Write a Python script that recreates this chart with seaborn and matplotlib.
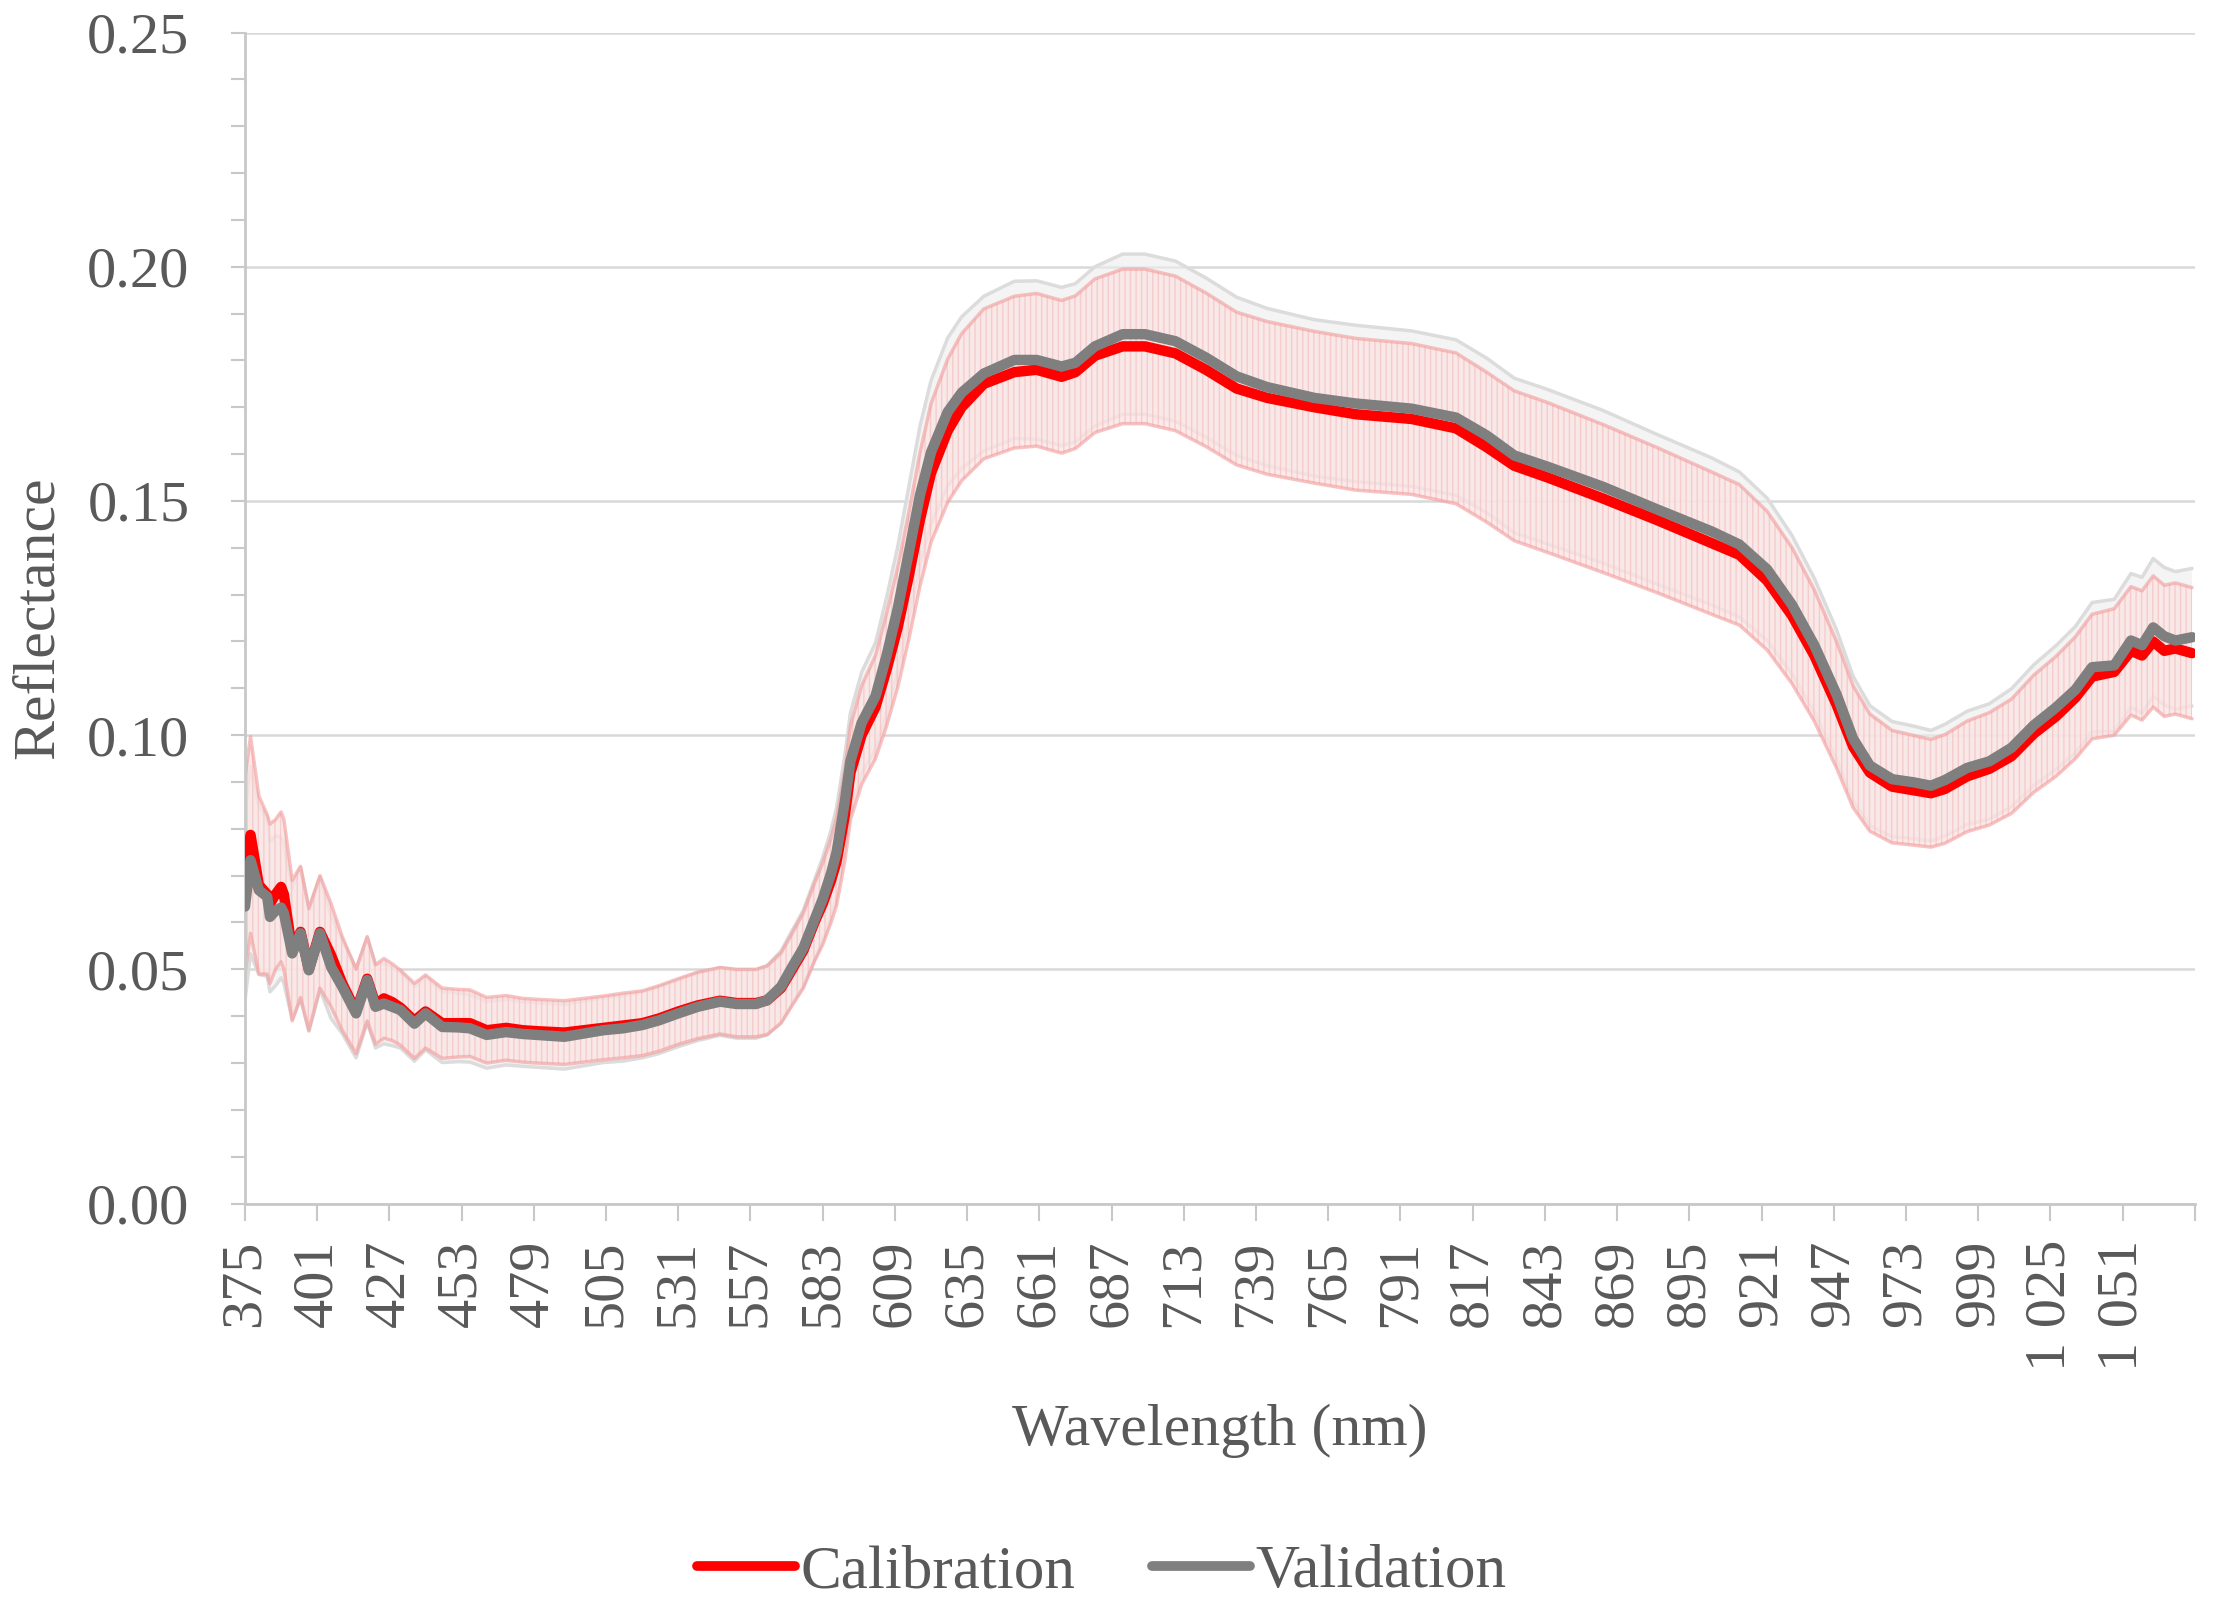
import numpy as np
import pandas as pd
import matplotlib
matplotlib.use("Agg")
import matplotlib.pyplot as plt
from matplotlib.lines import Line2D
from matplotlib.ticker import MultipleLocator, FixedLocator, FixedFormatter
import seaborn as sns


RED = "#ff0000"
GREY = "#7f7f7f"
TEXT = "#595959"
AXIS = "#c8c8c8"
GRID = "#d9d9d9"

# wavelength (nm) and mean / standard deviation of reflectance
wavelength = [
    375, 377, 380, 383, 384, 386, 388, 389, 392, 395,
    398, 402, 406, 410, 415, 419, 422, 425, 428, 431,
    436, 440, 446, 452, 456, 462, 469, 475, 480, 490,
    497, 504, 511, 518, 524, 531, 538, 546, 552, 559,
    563, 568, 572, 576, 580, 583, 586, 588, 591, 593,
    597, 602, 606, 610, 614, 618, 622, 628, 633, 641,
    652, 660, 669, 674, 681, 691, 699, 710, 721, 732,
    743, 760, 775, 795, 811, 822, 832, 844, 864, 883,
    903, 913, 923, 932, 940, 948, 954, 960, 968, 976,
    982, 987, 995, 1003, 1011, 1019, 1027, 1034, 1040, 1048,
    1054, 1058, 1062, 1066, 1070, 1076,
]

calibration_mean = [
    0.0700, 0.0787, 0.0680, 0.0660, 0.0640, 0.0660, 0.0676, 0.0660, 0.0540, 0.0580,
    0.0500, 0.0580, 0.0530, 0.0470, 0.0410, 0.0480, 0.0425, 0.0438, 0.0430, 0.0418,
    0.0390, 0.0410, 0.0385, 0.0385, 0.0385, 0.0370, 0.0375, 0.0370, 0.0368, 0.0365,
    0.0370, 0.0375, 0.0380, 0.0385, 0.0395, 0.0410, 0.0423, 0.0433, 0.0428, 0.0428,
    0.0434, 0.0460, 0.0500, 0.0540, 0.0600, 0.0640, 0.0690, 0.0730, 0.0830, 0.0920,
    0.1000, 0.1060, 0.1140, 0.1230, 0.1340, 0.1460, 0.1560, 0.1650, 0.1700, 0.1750,
    0.1775, 0.1780, 0.1765, 0.1775, 0.1810, 0.1830, 0.1830, 0.1815, 0.1780, 0.1740,
    0.1720, 0.1700, 0.1685, 0.1675, 0.1655, 0.1615, 0.1575, 0.1550, 0.1505, 0.1460,
    0.1410, 0.1385, 0.1330, 0.1255, 0.1170, 0.1065, 0.0975, 0.0920, 0.0890, 0.0882,
    0.0876, 0.0885, 0.0912, 0.0928, 0.0955, 0.1003, 0.1040, 0.1080, 0.1125, 0.1135,
    0.1180, 0.1170, 0.1200, 0.1180, 0.1185, 0.1175,
]

validation_mean = [
    0.0634, 0.0733, 0.0669, 0.0655, 0.0612, 0.0625, 0.0632, 0.0620, 0.0534, 0.0577,
    0.0498, 0.0577, 0.0505, 0.0463, 0.0406, 0.0477, 0.0420, 0.0427, 0.0420, 0.0413,
    0.0384, 0.0406, 0.0377, 0.0376, 0.0374, 0.0360, 0.0366, 0.0362, 0.0360, 0.0356,
    0.0363, 0.0370, 0.0374, 0.0381, 0.0391, 0.0406, 0.0420, 0.0431, 0.0426, 0.0426,
    0.0434, 0.0463, 0.0505, 0.0545, 0.0605, 0.0650, 0.0705, 0.0750, 0.0860, 0.0945,
    0.1026, 0.1083, 0.1170, 0.1270, 0.1390, 0.1512, 0.1604, 0.1690, 0.1731, 0.1772,
    0.1801, 0.1801, 0.1787, 0.1795, 0.1830, 0.1856, 0.1856, 0.1841, 0.1806, 0.1766,
    0.1743, 0.1720, 0.1708, 0.1697, 0.1678, 0.1640, 0.1597, 0.1573, 0.1530, 0.1483,
    0.1435, 0.1407, 0.1354, 0.1278, 0.1192, 0.1087, 0.0992, 0.0935, 0.0906, 0.0899,
    0.0892, 0.0904, 0.0930, 0.0944, 0.0973, 0.1021, 0.1059, 0.1097, 0.1145, 0.1149,
    0.1202, 0.1192, 0.1230, 0.1211, 0.1202, 0.1209,
]

calibration_sd = [
    0.021, 0.021, 0.019, 0.017, 0.017, 0.016, 0.016, 0.016, 0.015, 0.014,
    0.013, 0.012, 0.011, 0.010, 0.009, 0.009, 0.0085, 0.0085, 0.0082, 0.008,
    0.008, 0.0078, 0.0075, 0.0072, 0.0071, 0.007, 0.0069, 0.0068, 0.0068, 0.0068,
    0.0068, 0.0068, 0.0069, 0.0069, 0.007, 0.007, 0.0071, 0.0071, 0.0072, 0.0072,
    0.0073, 0.0075, 0.0077, 0.008, 0.0083, 0.0087, 0.009, 0.0093, 0.0097, 0.010,
    0.0105, 0.011, 0.012, 0.0128, 0.0135, 0.0142, 0.0148, 0.0153, 0.0157, 0.016,
    0.0162, 0.0163, 0.0163, 0.0163, 0.0164, 0.0165, 0.0165, 0.0165, 0.0164, 0.0163,
    0.0163, 0.0162, 0.0162, 0.0161, 0.0161, 0.016, 0.016, 0.016, 0.0158, 0.0155,
    0.0152, 0.015, 0.0148, 0.0145, 0.014, 0.0135, 0.013, 0.0125, 0.012, 0.0117,
    0.0115, 0.0116, 0.0118, 0.012, 0.0122, 0.0125, 0.0128, 0.013, 0.0133, 0.0135,
    0.0137, 0.0138, 0.014, 0.014, 0.014, 0.014,
]

validation_sd = [
    0.020, 0.020, 0.018, 0.017, 0.016, 0.016, 0.015, 0.015, 0.014, 0.014,
    0.013, 0.012, 0.011, 0.010, 0.0095, 0.009, 0.0088, 0.0086, 0.0083, 0.0081,
    0.008, 0.0078, 0.0076, 0.0073, 0.0072, 0.0071, 0.007, 0.0069, 0.0069, 0.0069,
    0.0069, 0.0069, 0.007, 0.007, 0.0071, 0.0071, 0.0072, 0.0072, 0.0073, 0.0073,
    0.0074, 0.0076, 0.0078, 0.0081, 0.0085, 0.0089, 0.0092, 0.0095, 0.0099, 0.0103,
    0.0108, 0.0114, 0.0124, 0.0132, 0.014, 0.0147, 0.0153, 0.0158, 0.0162, 0.0165,
    0.0168, 0.0169, 0.0169, 0.0169, 0.017, 0.0171, 0.0171, 0.0171, 0.017, 0.0169,
    0.0168, 0.0167, 0.0167, 0.0166, 0.0166, 0.0165, 0.0165, 0.0165, 0.0163, 0.016,
    0.0157, 0.0155, 0.0152, 0.0148, 0.0143, 0.0138, 0.0133, 0.0128, 0.0123, 0.012,
    0.0118, 0.0119, 0.0121, 0.0123, 0.0126, 0.0129, 0.0132, 0.0135, 0.0138, 0.0141,
    0.0143, 0.0145, 0.0147, 0.0147, 0.0147, 0.0147,
]

x_ticks = list(range(375, 1078, 26))
y_ticks = [0.00, 0.05, 0.10, 0.15, 0.20, 0.25]


def nm_label(v):
    if v >= 1077:
        return ""
    return f"{v:,}".replace(",", " ")


sns.set_style("white")
plt.rcParams["font.family"] = ["Liberation Serif", "DejaVu Serif"]
plt.rcParams["hatch.linewidth"] = 1.0

wl = np.array(wavelength)
cal_m = np.array(calibration_mean)
val_m = np.array(validation_mean)
cal_s = np.array(calibration_sd)
val_s = np.array(validation_sd)

df = pd.concat([
    pd.DataFrame({"wavelength": wl, "reflectance": cal_m, "set": "Calibration"}),
    pd.DataFrame({"wavelength": wl, "reflectance": val_m, "set": "Validation"}),
])

fig = plt.figure(figsize=(22.17, 16.03), dpi=100)
ax = fig.add_axes([0.1105, 0.2492, 0.8795, 0.7305])

# error "bars" drawn as bands: validation underneath, calibration on top
ax.fill_between(wl, val_m - val_s, val_m + val_s, facecolor="#eeeeee",
                edgecolor="none", alpha=0.6, zorder=1)
ax.plot(wl, val_m + val_s, color="#dcdcdc", lw=2.5, zorder=1.2)
ax.plot(wl, val_m - val_s, color="#dcdcdc", lw=2.5, zorder=1.2)

ax.fill_between(wl, cal_m - cal_s, cal_m + cal_s, facecolor="#fce4e4",
                edgecolor="#f6c2c2", hatch="|||", linewidth=0,
                alpha=0.75, zorder=1.5)
ax.plot(wl, cal_m + cal_s, color="#f29a9a", lw=2.5, alpha=0.6, zorder=1.6)
ax.plot(wl, cal_m - cal_s, color="#f29a9a", lw=2.5, alpha=0.6, zorder=1.6)

sns.lineplot(
    data=df,
    x="wavelength",
    y="reflectance",
    hue="set",
    palette={"Calibration": RED, "Validation": GREY},
    linewidth=7.5,
    errorbar=None,
    legend=False,
    ax=ax,
    zorder=3,
)

ax.set_xlim(375, 1077)
ax.set_ylim(0, 0.25)

ax.xaxis.set_major_locator(FixedLocator(x_ticks))
ax.xaxis.set_major_formatter(FixedFormatter([nm_label(v) for v in x_ticks]))
ax.yaxis.set_major_locator(FixedLocator(y_ticks))
ax.yaxis.set_major_formatter(FixedFormatter([f"{v:.2f}" for v in y_ticks]))
ax.yaxis.set_minor_locator(MultipleLocator(0.01))

ax.tick_params(axis="x", which="major", direction="out", length=12, width=1.5,
               color=AXIS, labelsize=42, labelcolor=TEXT, rotation=90, pad=14,
               bottom=True)
ax.tick_params(axis="y", which="both", direction="out", length=10, width=1.5,
               color=AXIS, left=True)
ax.tick_params(axis="y", which="major", labelsize=42, labelcolor=TEXT, pad=30)

ax.grid(axis="y", which="major", color=GRID, linewidth=1.8)
ax.grid(axis="x", visible=False)
ax.set_axisbelow(True)

for side in ["top", "right"]:
    ax.spines[side].set_visible(False)
for side in ["left", "bottom"]:
    ax.spines[side].set_color(AXIS)
    ax.spines[side].set_linewidth(2)

ax.set_xlabel("Wavelength (nm)", fontsize=43, color=TEXT)
ax.xaxis.label.set_va("center")
ax.xaxis.set_label_coords(0.5, -0.194)
ax.set_ylabel("Reflectance", fontsize=43, color=TEXT)
ax.yaxis.label.set_va("center")
ax.yaxis.set_label_coords(-0.106, 0.5)

handles = [
    Line2D([0], [0], color=RED, lw=7),
    Line2D([0], [0], color=GREY, lw=7),
]
fig.legend(
    handles,
    ["Calibration", "Validation"],
    loc="center",
    bbox_to_anchor=(0.497, 0.019),
    ncol=2,
    frameon=False,
    fontsize=44,
    labelcolor=TEXT,
    handlelength=1.6,
    handletextpad=0.1,
    columnspacing=1.25,
    borderpad=0,
    borderaxespad=0,
)

fig.savefig("out.png", dpi=100)
plt.close(fig)
